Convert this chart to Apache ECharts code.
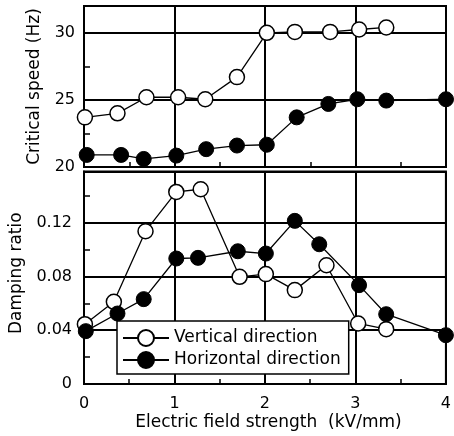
<!DOCTYPE html>
<html>
<head>
<meta charset="utf-8">
<script src="https://cdn.jsdelivr.net/npm/echarts@6/dist/echarts.min.js"></script>
<style>
html,body{margin:0;padding:0;background:#fff;}
#c{width:454px;height:436px;}
</style>
</head>
<body>
<div id="c"></div>
<script>
// Critical speed (Hz) vs electric field strength (kV/mm)
var speedVertX = [0.01, 0.37, 0.69, 1.04, 1.34, 1.69, 2.02, 2.33, 2.72, 3.04, 3.34];
var speedVertY = [23.7, 24.0, 25.2, 25.2, 25.05, 26.7, 30.0, 30.07, 30.07, 30.25, 30.4];
var speedHorzX = [0.03, 0.41, 0.66, 1.02, 1.35, 1.69, 2.02, 2.35, 2.70, 3.02, 3.34, 4.0];
var speedHorzY = [20.9, 20.9, 20.6, 20.85, 21.33, 21.6, 21.66, 23.7, 24.7, 25.05, 24.95, 25.05];

// Damping ratio vs electric field strength (kV/mm)
var dampVertX = [0.01, 0.33, 0.68, 1.02, 1.29, 1.72, 2.01, 2.33, 2.68, 3.03, 3.34];
var dampVertY = [0.0445, 0.0611, 0.1136, 0.1428, 0.1448, 0.0797, 0.0817, 0.0698, 0.0883, 0.0450, 0.0408];
var dampHorzX = [0.02, 0.37, 0.66, 1.02, 1.26, 1.70, 2.01, 2.33, 2.60, 3.04, 3.34, 4.0];
var dampHorzY = [0.0393, 0.0524, 0.0631, 0.0933, 0.0938, 0.0987, 0.0970, 0.1213, 0.1039, 0.0735, 0.0519, 0.0363];

var seriesNames = ['Vertical direction', 'Horizontal direction'];
var xTickLabels = ['0', '1', '2', '3', '4'];
var xTitle = 'Electric field strength  (kV/mm)';
var yTitleTop = 'Critical speed (Hz)';
var yTitleBottom = 'Damping ratio';

function pairs(xs, ys) { return xs.map(function (x, i) { return [x, ys[i]]; }); }

var FONT = 'DejaVu Sans';
var BLACK = '#000';

function xAxisCfg(grid, showLabels) {
  return {
    type: 'value', gridIndex: grid, min: 0, max: 4, interval: 1,
    axisLine: { show: true, onZero: false, lineStyle: { color: BLACK, width: 2 } },
    axisTick: { show: false, inside: true },
    minorTick: { show: true, splitNumber: 2, length: 5, lineStyle: { color: BLACK, width: 1.5 } },
    splitLine: { show: true, lineStyle: { color: BLACK, width: 2 } },
    axisLabel: {
      show: showLabels, color: BLACK, fontSize: 16, fontFamily: FONT, margin: 12,
      formatter: function (v) { return xTickLabels[Math.round(v)]; }
    },
    name: showLabels ? xTitle : '',
    nameLocation: 'middle', nameGap: 30,
    nameTextStyle: { color: BLACK, fontSize: 17, fontFamily: FONT, padding: [0, 0, 0, 7] }
  };
}

var option = {
  animation: false,
  backgroundColor: '#fff',
  grid: [
    { left: 84, top: 6, width: 362, height: 161, show: true, borderColor: BLACK, borderWidth: 2 },
    { left: 84, top: 171.5, width: 362, height: 212.5, show: true, borderColor: BLACK, borderWidth: 2 }
  ],
  xAxis: [xAxisCfg(0, false), xAxisCfg(1, true)],
  yAxis: [
    {
      type: 'value', gridIndex: 0, min: 20, max: 32, interval: 5,
      axisLine: { show: true, onZero: false, lineStyle: { color: BLACK, width: 2 } },
      axisTick: { show: false, inside: true },
      minorTick: { show: true, splitNumber: 2, length: 6, lineStyle: { color: BLACK, width: 1.5 } },
      splitLine: { show: true, lineStyle: { color: BLACK, width: 2 } },
      axisLabel: { color: BLACK, fontSize: 16, fontFamily: FONT, margin: 9, showMaxLabel: false },
      name: yTitleTop, nameLocation: 'middle', nameRotate: 90, nameGap: 41,
      nameTextStyle: { color: BLACK, fontSize: 17, fontFamily: FONT }
    },
    {
      type: 'value', gridIndex: 1, min: 0, max: 0.158, interval: 0.04,
      axisLine: { show: true, onZero: false, lineStyle: { color: BLACK, width: 2 } },
      axisTick: { show: false, inside: true },
      minorTick: { show: true, splitNumber: 2, length: 6, lineStyle: { color: BLACK, width: 1.5 } },
      splitLine: { show: true, lineStyle: { color: BLACK, width: 2 } },
      axisLabel: { color: BLACK, fontSize: 16, fontFamily: FONT, margin: 12, showMaxLabel: false },
      name: yTitleBottom, nameLocation: 'middle', nameRotate: 90, nameGap: 55,
      nameTextStyle: { color: BLACK, fontSize: 17, fontFamily: FONT, padding: [0, 0, 0, 9] }
    }
  ],
  legend: {
    orient: 'vertical', left: 117, top: 321,
    data: seriesNames,
    itemWidth: 46, itemHeight: 20, itemGap: 4,
    padding: [8, 8, 5, 5],
    backgroundColor: '#fff', borderColor: BLACK, borderWidth: 1.5,
    textStyle: { color: BLACK, fontSize: 17, fontFamily: FONT },
    selectedMode: false
  },
  series: [
    {
      name: seriesNames[0], type: 'line', xAxisIndex: 0, yAxisIndex: 0,
      data: pairs(speedVertX, speedVertY), symbol: 'circle', symbolSize: 15, clip: false,
      lineStyle: { color: BLACK, width: 1.3 },
      itemStyle: { color: '#fff', borderColor: BLACK, borderWidth: 1.5 }
    },
    {
      name: seriesNames[1], type: 'line', xAxisIndex: 0, yAxisIndex: 0,
      data: pairs(speedHorzX, speedHorzY), symbol: 'circle', symbolSize: 15, clip: false,
      lineStyle: { color: BLACK, width: 1.3 },
      itemStyle: { color: BLACK, borderColor: BLACK, borderWidth: 1 }
    },
    {
      name: seriesNames[0], type: 'line', xAxisIndex: 1, yAxisIndex: 1,
      data: pairs(dampVertX, dampVertY), symbol: 'circle', symbolSize: 15, clip: false,
      lineStyle: { color: BLACK, width: 1.3 },
      itemStyle: { color: '#fff', borderColor: BLACK, borderWidth: 1.5 }
    },
    {
      name: seriesNames[1], type: 'line', xAxisIndex: 1, yAxisIndex: 1,
      data: pairs(dampHorzX, dampHorzY), symbol: 'circle', symbolSize: 15, clip: false,
      lineStyle: { color: BLACK, width: 1.3 },
      itemStyle: { color: BLACK, borderColor: BLACK, borderWidth: 1 }
    }
  ]
};

var chart = echarts.init(document.getElementById('c'), null, { renderer: 'canvas' });
chart.setOption(option);
</script>
</body>
</html>
